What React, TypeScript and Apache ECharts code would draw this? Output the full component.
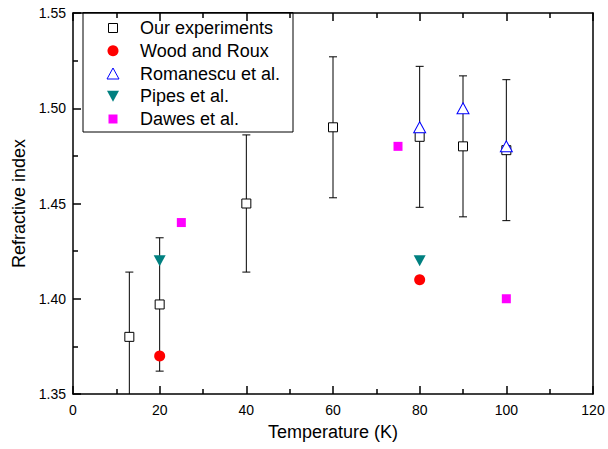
import React, { useEffect, useRef } from "react";
import * as echarts from "echarts";

const expT = [13, 20, 40, 60, 80, 90, 100];
const expN = [1.38, 1.397, 1.45, 1.49, 1.485, 1.48, 1.478];
const expErr = [0.034, 0.035, 0.036, 0.037, 0.037, 0.037, 0.037];

const woodT = [20, 80];
const woodN = [1.37, 1.41];

const romT = [80, 90, 100];
const romN = [1.49, 1.5, 1.48];

const pipesT = [20, 80];
const pipesN = [1.42, 1.42];

const dawesT = [25, 75, 100];
const dawesN = [1.44, 1.48, 1.4];

const xTicks = [0, 20, 40, 60, 80, 100, 120];
const yTicks = ["1.35", "1.40", "1.45", "1.50", "1.55"];

const legendNames = ["Our experiments", "Wood and Roux", "Romanescu et al.", "Pipes et al.", "Dawes et al."];

const FONT = "'Liberation Sans', Arial, sans-serif";
const TICK = "#000";

function legendGraphic() {
  const x0 = 83, y0 = 12.5, w = 210, h = 119.5;
  const sx = 113, tx = 140, rowY = 28, rowGap = 22.75;
  const els: any[] = [
    { type: "rect", shape: { x: x0, y: y0, width: w, height: h }, style: { fill: "#fff", stroke: "#000", lineWidth: 1 }, z: 10 },
  ];
  legendNames.forEach((name, i) => {
    const cy = rowY + i * rowGap;
    els.push({ type: "text", x: tx, y: cy, style: { text: name, fontSize: 18, fontFamily: FONT, fill: "#000", verticalAlign: "middle", align: "left" }, z: 11 });
  });
  let cy = rowY;
  els.push({ type: "rect", shape: { x: sx - 4.5, y: cy - 4.5, width: 9, height: 9 }, style: { fill: "#fff", stroke: "#000", lineWidth: 1 }, z: 11 });
  cy += rowGap;
  els.push({ type: "circle", shape: { cx: sx, cy, r: 5.5 }, style: { fill: "#ff0000" }, z: 11 });
  cy += rowGap;
  els.push({ type: "polygon", shape: { points: [[sx, cy - 5.5], [sx + 6, cy + 5.5], [sx - 6, cy + 5.5]] }, style: { fill: "#fff", stroke: "#0000ff", lineWidth: 1 }, z: 11 });
  cy += rowGap;
  els.push({ type: "polygon", shape: { points: [[sx - 6, cy - 5.5], [sx + 6, cy - 5.5], [sx, cy + 5.5]] }, style: { fill: "#008080" }, z: 11 });
  cy += rowGap;
  els.push({ type: "rect", shape: { x: sx - 4.5, y: cy - 4.5, width: 9, height: 9 }, style: { fill: "#ff00ff" }, z: 11 });
  return els;
}

const mkLine = () => ({ show: true, onZero: false, lineStyle: { color: "#000", width: 1.5 } });
const mkTick = () => ({ show: true, inside: true, length: 8, lineStyle: { color: TICK, width: 1.5 } });
const mkMinor = () => ({ show: true, splitNumber: 2, length: 5, lineStyle: { color: TICK, width: 1.5 } });

export default function App() {
  const ref = useRef<HTMLDivElement>(null);
  useEffect(() => {
    document.body.style.margin = "0";
    const chart = echarts.init(ref.current!, null, { renderer: "svg" });
    const zip = (a: number[], b: number[]) => a.map((v, i) => [v, b[i]]);
    const errData = expT.map((t, i) => [t, expN[i] - expErr[i], expN[i] + expErr[i]]);
    chart.setOption({
      animation: false,
      textStyle: { fontFamily: FONT },
      grid: { left: 73, right: 15, top: 13, bottom: 55 },
      graphic: legendGraphic(),
      xAxis: [
        {
          type: "value",
          z: 12,
          min: xTicks[0],
          max: xTicks[xTicks.length - 1],
          interval: 20,
          name: "Temperature (K)",
          nameLocation: "middle",
          nameGap: 29,
          nameTextStyle: { fontSize: 18, color: "#000", fontFamily: FONT },
          axisLine: mkLine(),
          axisTick: mkTick(),
          minorTick: mkMinor(),
          axisLabel: { fontSize: 14, color: "#000", margin: 9, fontFamily: FONT },
          splitLine: { show: false },
        },
        {
          type: "value",
          z: 12,
          position: "top",
          min: xTicks[0],
          max: xTicks[xTicks.length - 1],
          interval: 20,
          axisLine: mkLine(),
          axisTick: mkTick(),
          minorTick: mkMinor(),
          axisLabel: { show: false },
          splitLine: { show: false },
        },
      ],
      yAxis: [
        {
          type: "value",
          z: 12,
          min: 1.35,
          max: 1.55,
          interval: 0.05,
          name: "Refractive index",
          nameLocation: "middle",
          nameGap: 44,
          nameTextStyle: { fontSize: 18, color: "#000", fontFamily: FONT },
          axisLine: mkLine(),
          axisTick: mkTick(),
          minorTick: mkMinor(),
          axisLabel: {
            fontSize: 14,
            color: "#000",
            margin: 7,
            fontFamily: FONT,
            formatter: (v: number) => {
              const s = v.toFixed(2);
              return yTicks.includes(s) ? s : "";
            },
          },
          splitLine: { show: false },
        },
        {
          type: "value",
          z: 12,
          position: "right",
          min: 1.35,
          max: 1.55,
          interval: 0.05,
          axisLine: mkLine(),
          axisTick: { show: false },
          axisLabel: { show: false },
          splitLine: { show: false },
        },
      ],
      series: [
        {
          type: "custom",
          name: "errors",
          clip: true,
          z: 1,
          encode: { x: 0, y: [1, 2] },
          data: errData,
          renderItem: (params: any, api: any) => {
            const x = api.value(0);
            const lo = api.coord([x, api.value(1)]);
            const hi = api.coord([x, api.value(2)]);
            const w = 4;
            const style = { stroke: "#000", lineWidth: 1 };
            return {
              type: "group",
              children: [
                { type: "line", shape: { x1: lo[0], y1: lo[1], x2: hi[0], y2: hi[1] }, style },
                { type: "line", shape: { x1: lo[0] - w, y1: lo[1], x2: lo[0] + w, y2: lo[1] }, style },
                { type: "line", shape: { x1: hi[0] - w, y1: hi[1], x2: hi[0] + w, y2: hi[1] }, style },
              ],
            };
          },
        },
        {
          type: "scatter",
          name: "Our experiments",
          symbol: "rect",
          symbolSize: 9,
          z: 3,
          itemStyle: { color: "#fff", borderColor: "#000", borderWidth: 1, opacity: 1 },
          data: zip(expT, expN),
        },
        {
          type: "scatter",
          name: "Wood and Roux",
          symbol: "circle",
          symbolSize: 11,
          z: 3,
          itemStyle: { color: "#ff0000", opacity: 1 },
          data: zip(woodT, woodN),
        },
        {
          type: "scatter",
          name: "Romanescu et al.",
          symbol: "triangle",
          symbolSize: [12, 11],
          z: 4,
          itemStyle: { color: "#fff", borderColor: "#0000ff", borderWidth: 1, opacity: 1 },
          data: zip(romT, romN),
        },
        {
          type: "scatter",
          name: "Pipes et al.",
          symbol: "triangle",
          symbolRotate: 180,
          symbolSize: [12, 11],
          z: 3,
          itemStyle: { color: "#008080", opacity: 1 },
          data: zip(pipesT, pipesN),
        },
        {
          type: "scatter",
          name: "Dawes et al.",
          symbol: "rect",
          symbolSize: 9,
          z: 3,
          itemStyle: { color: "#ff00ff", opacity: 1 },
          data: zip(dawesT, dawesN),
        },
      ],
    });
    return () => chart.dispose();
  }, []);
  return <div ref={ref} style={{ width: 608, height: 449 }} />;
}
